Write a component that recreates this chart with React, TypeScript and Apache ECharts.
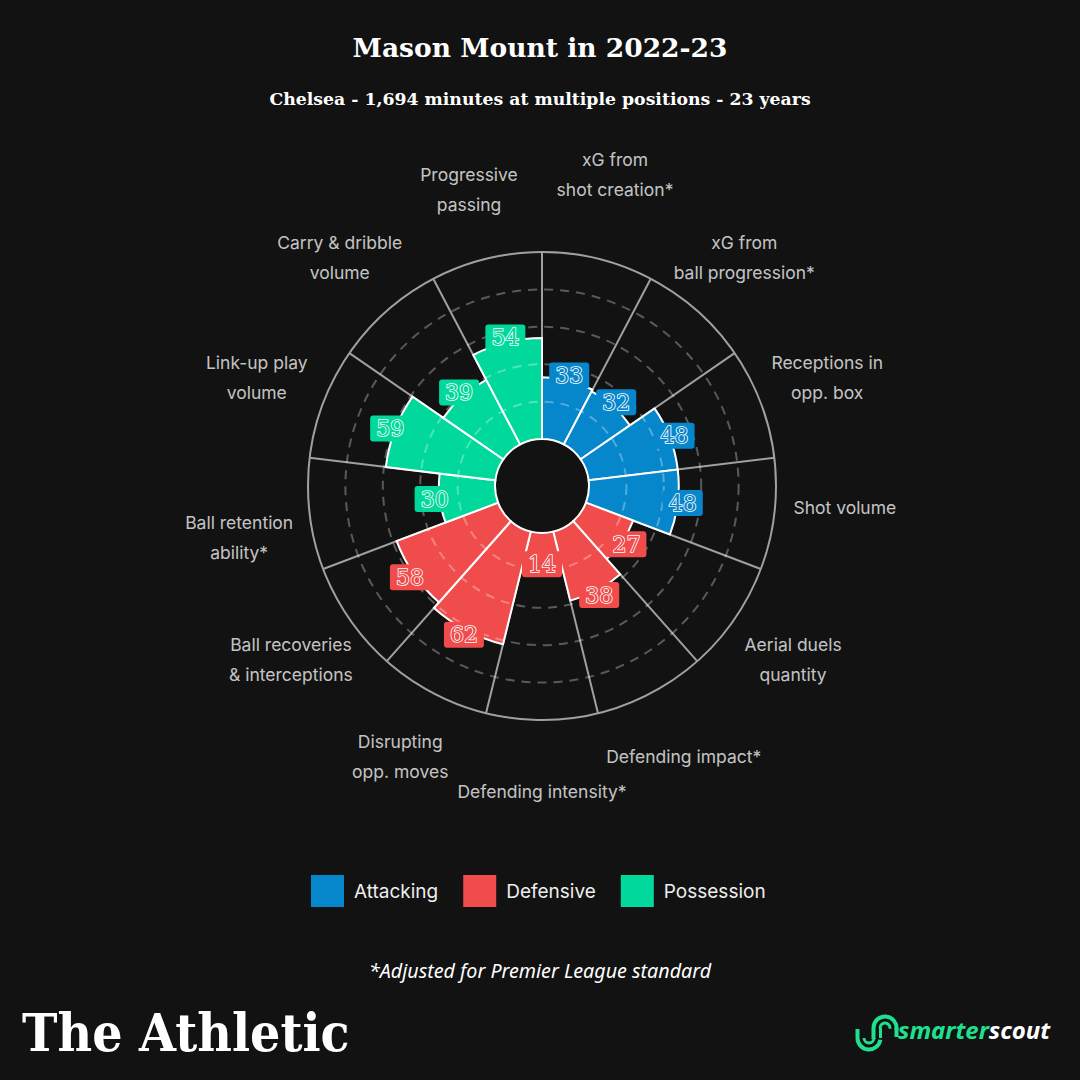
import React, { useEffect, useRef } from "react";
import * as echarts from "echarts";

const categories = [
  "xG from\nshot creation*",
  "xG from\nball progression*",
  "Receptions in\nopp. box",
  "Shot volume",
  "Aerial duels\nquantity",
  "Defending impact*",
  "Defending intensity*",
  "Disrupting\nopp. moves",
  "Ball recoveries\n& interceptions",
  "Ball retention\nability*",
  "Link-up play\nvolume",
  "Carry & dribble\nvolume",
  "Progressive\npassing",
];
const categoryGroups = [
  "Attacking", "Attacking", "Attacking", "Attacking",
  "Defensive", "Defensive", "Defensive", "Defensive", "Defensive",
  "Possession", "Possession", "Possession", "Possession",
];
const values = [33, 32, 48, 48, 27, 38, 14, 62, 58, 30, 59, 39, 54];
const groupNames = ["Attacking", "Defensive", "Possession"];
const groupColors = ["#0787cb", "#f04c4c", "#00d99b"];
const radiusTicks = [0, 20, 40, 60, 80, 100];
// small vertical nudges of some outer labels, as in the original layout
const labelNudges = [-15, 0, 0, -15, 0, 0, 0, 0, 0, 15, 0, 0, 0];

const BG = "#121212";
const GRID = "#a0a0a0";
const CENTER = [542, 486];
const LABEL_R = 138;
const BADGE_OFFSET = 2.7;
const LOGO_GREEN = "#1fe08f";

export default function App() {
  const ref = useRef<HTMLDivElement>(null);
  useEffect(() => {
    document.body.style.margin = "0";
    document.body.style.background = BG;
    const chart = echarts.init(ref.current!, null, { renderer: "svg" });
    const colorOf = (g: string) => groupColors[groupNames.indexOf(g)];

    const barSeries = groupNames.map((g, gi) => ({
      type: "bar",
      name: g,
      coordinateSystem: "polar",
      polarIndex: 0,
      data: values.map((v, i) => (categoryGroups[i] === g ? v : "-")),
      barGap: "-100%",
      barCategoryGap: "0%",
      itemStyle: { color: groupColors[gi], borderColor: "#ffffff", borderWidth: 2 },
      z: 2,
      silent: true,
    }));

    const splitColors = radiusTicks.map((t, i) =>
      i === 0 || i === radiusTicks.length - 1 ? "rgba(0,0,0,0)" : "rgba(255,255,255,0.3)"
    );

    const arc = (cx: number, cy: number, r: number, s: number, e: number, w: number) => ({
      type: "arc",
      shape: { cx, cy, r, startAngle: s, endAngle: e },
      style: { stroke: LOGO_GREEN, lineWidth: w, fill: null },
    });

    const option: any = {
      animation: false,
      backgroundColor: BG,
      title: [
        {
          text: "Mason Mount in 2022-23",
          left: "center",
          top: 29,
          textStyle: { color: "#ffffff", fontFamily: "DejaVu Serif", fontWeight: "bold", fontSize: 26.5 },
        },
        {
          text: "Chelsea - 1,694 minutes at multiple positions - 23 years",
          left: "center",
          top: 85,
          textStyle: { color: "#ffffff", fontFamily: "DejaVu Serif", fontWeight: "bold", fontSize: 17.3 },
        },
        {
          text: "*Adjusted for Premier League standard",
          left: "center",
          top: 955,
          textStyle: { color: "#ffffff", fontFamily: "Noto Sans", fontStyle: "italic", fontWeight: "normal", fontSize: 19.7 },
        },
      ],
      legend: {
        data: groupNames,
        left: 306,
        top: 870,
        icon: "rect",
        itemWidth: 33,
        itemHeight: 32,
        itemGap: 25,
        itemStyle: { borderWidth: 0 },
        textStyle: { color: "#eeeeee", fontFamily: "Inter", fontSize: 19, padding: [0, 0, 0, 5] },
        selectedMode: false,
      },
      polar: [
        { center: CENTER, radius: [47, 234] },
        { center: CENTER, radius: [0, 234] },
      ],
      angleAxis: [
        {
          polarIndex: 0,
          type: "category",
          data: categories,
          startAngle: 90,
          clockwise: true,
          boundaryGap: true,
          axisLine: { show: false },
          axisTick: { show: false },
          axisLabel: { show: false },
          splitLine: { show: true, lineStyle: { color: GRID, width: 2 } },
          z: 1,
        },
        {
          polarIndex: 1,
          type: "value",
          min: 0,
          max: 360,
          startAngle: 90,
          axisLine: { show: true, lineStyle: { color: GRID, width: 2 } },
          axisTick: { show: false },
          axisLabel: { show: false },
          splitLine: { show: false },
          z: 1,
        },
      ],
      radiusAxis: [
        {
          polarIndex: 0,
          type: "value",
          min: 0,
          max: 100,
          interval: 20,
          axisLine: { show: false },
          axisTick: { show: false },
          axisLabel: { show: false },
          splitLine: { show: true, lineStyle: { color: splitColors, width: 2, type: [9, 7] } },
          z: 5,
        },
        { polarIndex: 1, type: "value", min: 0, max: 1, show: false },
      ],
      series: [
        ...barSeries,
        {
          type: "scatter",
          name: "badges",
          coordinateSystem: "polar",
          polarIndex: 0,
          clip: false,
          silent: true,
          symbol: "circle",
          symbolSize: 1,
          itemStyle: { color: "rgba(0,0,0,0)", opacity: 1 },
          z: 10,
          data: values.map((v, i) => ({
            value: [v + BADGE_OFFSET, i],
            label: { backgroundColor: colorOf(categoryGroups[i]), color: colorOf(categoryGroups[i]) },
          })),
          label: {
            show: true,
            position: "inside",
            opacity: 1,
            formatter: (p: any) => String(values[p.dataIndex]),
            fontFamily: "DejaVu Serif",
            fontWeight: "normal",
            fontSize: 22,
            textBorderColor: "#ffffff",
            textBorderWidth: 1.6,
            padding: [3, 6, 1, 6],
            borderRadius: 3,
          },
        },
        {
          type: "scatter",
          name: "categoryLabels",
          coordinateSystem: "polar",
          polarIndex: 0,
          clip: false,
          silent: true,
          symbol: "circle",
          symbolSize: 1,
          itemStyle: { color: "rgba(0,0,0,0)" },
          z: 10,
          data: categories.map((c, i) => ({
            value: [LABEL_R, i],
            label: { offset: [0, labelNudges[i]] },
          })),
          label: {
            show: true,
            position: "inside",
            formatter: (p: any) => categories[p.dataIndex],
            color: "#f4f4f4",
            fontFamily: "Inter",
            fontSize: 17.5,
            lineHeight: 30,
            align: "center",
            verticalAlign: "middle",
          },
        },
      ],
      graphic: [
        {
          type: "text",
          left: 22,
          top: 1006,
          scaleX: 0.9,
          style: {
            text: "The Athletic",
            fill: "#ffffff",
            font: "bold 53px 'DejaVu Serif'",
          },
        },
        {
          type: "group",
          left: 855,
          top: 1014,
          children: [
            arc(29, 14, 11.5, Math.PI, Math.PI * 2.05, 4),
            arc(29, 14, 5, Math.PI, Math.PI * 2.05, 3),
            arc(13, 24, 11.5, 0.05 * Math.PI, Math.PI, 4),
            arc(13, 24, 5, 0, Math.PI, 3),
            { type: "line", shape: { x1: 17.5, y1: 14, x2: 17.5, y2: 25 }, style: { stroke: LOGO_GREEN, lineWidth: 4 } },
            { type: "line", shape: { x1: 24.5, y1: 14, x2: 24.5, y2: 24 }, style: { stroke: LOGO_GREEN, lineWidth: 3 } },
            { type: "line", shape: { x1: 1.5, y1: 15, x2: 1.5, y2: 24 }, style: { stroke: LOGO_GREEN, lineWidth: 4 } },
            { type: "line", shape: { x1: 40.5, y1: 14, x2: 40.5, y2: 23 }, style: { stroke: LOGO_GREEN, lineWidth: 4 } },
          ],
        },
        {
          type: "text",
          left: 898,
          top: 1017,
          style: {
            text: "{g|smarter}{w|scout}",
            rich: {
              g: { fill: LOGO_GREEN, font: "italic bold 24px 'Noto Sans'" },
              w: { fill: "#ffffff", font: "italic bold 24px 'Noto Sans'" },
            },
          },
        },
      ],
    };
    chart.setOption(option);
    return () => chart.dispose();
  }, []);
  return <div ref={ref} style={{ width: 1080, height: 1080 }} />;
}
